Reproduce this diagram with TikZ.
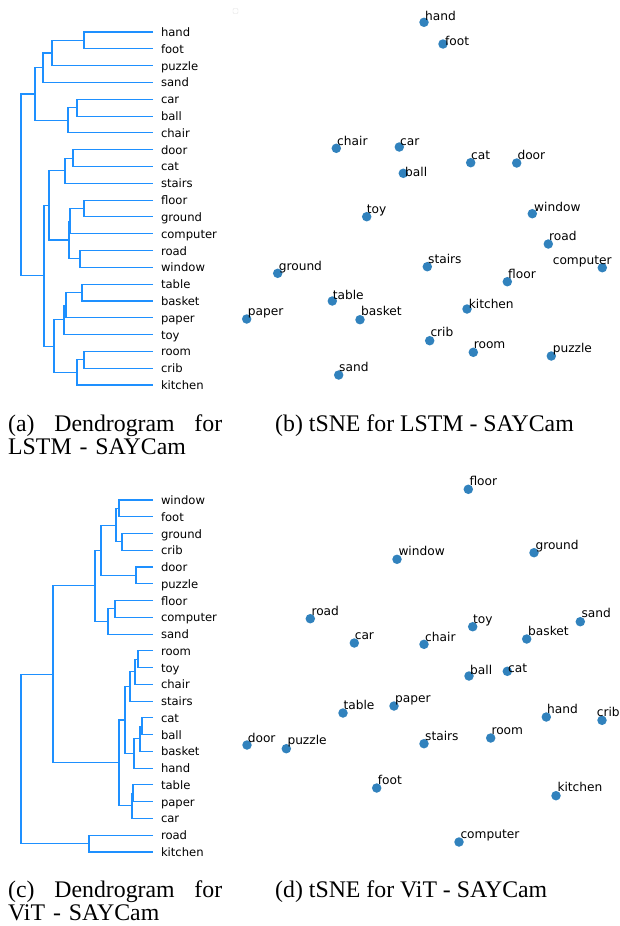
\documentclass[tikz,border=0pt]{standalone}
\usepackage{fontspec}
\setmainfont{DejaVu Sans}
\newfontfamily\capfont{Liberation Serif}

\definecolor{treeblue}{RGB}{30,144,255}
\definecolor{dotblue}{RGB}{49,130,189}

\tikzset{
  link/.style={draw=treeblue, line width=1.1pt},
  leaf/.style={anchor=west, inner sep=0pt, outer xsep=8pt, outer ysep=0pt,
    text height=9pt, text depth=0pt, font=\fontsize{11.6}{13}\selectfont},
  dot/.style={circle, fill=dotblue, inner sep=0pt, minimum size=9.5pt},
  word/.style={anchor=base west, inner sep=0pt, font=\fontsize{12.2}{14}\selectfont},
  caption/.style={anchor=base west, inner sep=0pt, align=left,
    font=\capfont\fontsize{23.8}{23}\selectfont}
}

\begin{document}
\begin{tikzpicture}[x=1pt,y=-1pt]
\useasboundingbox (0,0) rectangle (619,926);

% (a) dendrogram, LSTM
\node[leaf] (a-hand) at (153,32) {hand};
\node[leaf] (a-foot) at (153,48.81) {foot};
\node[leaf] (a-puzzle) at (153,65.62) {puzzle};
\node[leaf] (a-sand) at (153,82.43) {sand};
\node[leaf] (a-car) at (153,99.24) {car};
\node[leaf] (a-ball) at (153,116.05) {ball};
\node[leaf] (a-chair) at (153,132.86) {chair};
\node[leaf] (a-door) at (153,149.67) {door};
\node[leaf] (a-cat) at (153,166.48) {cat};
\node[leaf] (a-stairs) at (153,183.29) {stairs};
\node[leaf] (a-floor) at (153,200.1) {floor};
\node[leaf] (a-ground) at (153,216.91) {ground};
\node[leaf] (a-computer) at (153,233.72) {computer};
\node[leaf] (a-road) at (153,250.53) {road};
\node[leaf] (a-window) at (153,267.34) {window};
\node[leaf] (a-table) at (153,284.15) {table};
\node[leaf] (a-basket) at (153,300.96) {basket};
\node[leaf] (a-paper) at (153,317.77) {paper};
\node[leaf] (a-toy) at (153,334.58) {toy};
\node[leaf] (a-room) at (153,351.39) {room};
\node[leaf] (a-crib) at (153,368.2) {crib};
\node[leaf] (a-kitchen) at (153,385.01) {kitchen};

\coordinate (a-hf) at (84,40.41);
\coordinate (a-hfp) at (52,53.01);
\coordinate (a-hfps) at (43,67.72);
\coordinate (a-cb) at (77,107.65);
\coordinate (a-cbc) at (68,120.25);
\coordinate (a-up) at (35,93.99);
\coordinate (a-dc) at (73,158.08);
\coordinate (a-dcs) at (65,170.68);
\coordinate (a-fg) at (84,208.5);
\coordinate (a-fgc) at (70,221.11);
\coordinate (a-rw) at (80,258.94);
\coordinate (a-fgcrw) at (69,240.02);
\coordinate (a-mid) at (49,205.35);
\coordinate (a-tb) at (82,292.56);
\coordinate (a-tbp) at (66,305.16);
\coordinate (a-tbpt) at (64,319.87);
\coordinate (a-rc) at (84,359.8);
\coordinate (a-rck) at (77,372.4);
\coordinate (a-low) at (54,346.14);
\coordinate (a-down) at (44,275.74);
\coordinate (a-root) at (21,184.87);

\draw[link] (a-hand) -| (a-hf) |- (a-foot);
\draw[link] (a-hf) -| (a-hfp) |- (a-puzzle);
\draw[link] (a-hfp) -| (a-hfps) |- (a-sand);
\draw[link] (a-car) -| (a-cb) |- (a-ball);
\draw[link] (a-cb) -| (a-cbc) |- (a-chair);
\draw[link] (a-hfps) -| (a-up) |- (a-cbc);
\draw[link] (a-door) -| (a-dc) |- (a-cat);
\draw[link] (a-dc) -| (a-dcs) |- (a-stairs);
\draw[link] (a-floor) -| (a-fg) |- (a-ground);
\draw[link] (a-fg) -| (a-fgc) |- (a-computer);
\draw[link] (a-road) -| (a-rw) |- (a-window);
\draw[link] (a-fgc) -| (a-fgcrw) |- (a-rw);
\draw[link] (a-dcs) -| (a-mid) |- (a-fgcrw);
\draw[link] (a-table) -| (a-tb) |- (a-basket);
\draw[link] (a-tb) -| (a-tbp) |- (a-paper);
\draw[link] (a-tbp) -| (a-tbpt) |- (a-toy);
\draw[link] (a-room) -| (a-rc) |- (a-crib);
\draw[link] (a-rc) -| (a-rck) |- (a-kitchen);
\draw[link] (a-tbpt) -| (a-low) |- (a-rck);
\draw[link] (a-mid) -| (a-down) |- (a-low);
\draw[link] (a-up) -| (a-root) |- (a-down);

% (b) tSNE, LSTM
\node[draw=black!12, rounded corners=1pt, minimum size=5pt, inner sep=0pt] (legend) at (235.5,11) {};
\node[dot] (b-hand) at (424,22.3) {};
\node[dot] (b-foot) at (443,44) {};
\node[dot] (b-chair) at (336.3,148.3) {};
\node[dot] (b-car) at (399.3,147) {};
\node[dot] (b-cat) at (470.7,162.7) {};
\node[dot] (b-door) at (516.7,163) {};
\node[dot] (b-ball) at (403.3,173.3) {};
\node[dot] (b-toy) at (366.7,216.7) {};
\node[dot] (b-window) at (532.3,213.7) {};
\node[dot] (b-road) at (548.3,244) {};
\node[dot] (b-computer) at (602.3,267.7) {};
\node[dot] (b-ground) at (277.7,273.3) {};
\node[dot] (b-stairs) at (427.3,266.7) {};
\node[dot] (b-floor) at (507.3,281.7) {};
\node[dot] (b-table) at (332.3,301) {};
\node[dot] (b-paper) at (246.7,319) {};
\node[dot] (b-basket) at (360,319.7) {};
\node[dot] (b-kitchen) at (467,309) {};
\node[dot] (b-crib) at (429.7,340.7) {};
\node[dot] (b-room) at (473.3,352.3) {};
\node[dot] (b-puzzle) at (551.3,356) {};
\node[dot] (b-sand) at (338.7,375) {};

\node[word] (b-hand-t) at (425,20.7) {hand};
\node[word] (b-foot-t) at (445,45.7) {foot};
\node[word] (b-chair-t) at (337,145) {chair};
\node[word] (b-car-t) at (400,145.7) {car};
\node[word] (b-cat-t) at (471,159.3) {cat};
\node[word] (b-door-t) at (517.3,159.3) {door};
\node[word] (b-ball-t) at (405,176.3) {ball};
\node[word] (b-toy-t) at (366.7,213.3) {toy};
\node[word] (b-window-t) at (534,211.7) {window};
\node[word] (b-road-t) at (549,240.7) {road};
\node[word] (b-computer-t) at (552.6,264) {computer};
\node[word] (b-ground-t) at (278.6,270) {ground};
\node[word] (b-stairs-t) at (428,263) {stairs};
\node[word] (b-floor-t) at (508,278) {floor};
\node[word] (b-table-t) at (332.6,299.3) {table};
\node[word] (b-paper-t) at (247.6,315.3) {paper};
\node[word] (b-basket-t) at (361,315.7) {basket};
\node[word] (b-kitchen-t) at (468.6,308) {kitchen};
\node[word] (b-crib-t) at (430.3,336.7) {crib};
\node[word] (b-room-t) at (473.6,348.3) {room};
\node[word] (b-puzzle-t) at (552.6,352.3) {puzzle};
\node[word] (b-sand-t) at (339,371) {sand};

% (c) dendrogram, ViT
\node[leaf] (c-window) at (153,500) {window};
\node[leaf] (c-foot) at (153,516.76) {foot};
\node[leaf] (c-ground) at (153,533.52) {ground};
\node[leaf] (c-crib) at (153,550.28) {crib};
\node[leaf] (c-door) at (153,567.04) {door};
\node[leaf] (c-puzzle) at (153,583.8) {puzzle};
\node[leaf] (c-floor) at (153,600.56) {floor};
\node[leaf] (c-computer) at (153,617.32) {computer};
\node[leaf] (c-sand) at (153,634.08) {sand};
\node[leaf] (c-room) at (153,650.84) {room};
\node[leaf] (c-toy) at (153,667.6) {toy};
\node[leaf] (c-chair) at (153,684.36) {chair};
\node[leaf] (c-stairs) at (153,701.12) {stairs};
\node[leaf] (c-cat) at (153,717.88) {cat};
\node[leaf] (c-ball) at (153,734.64) {ball};
\node[leaf] (c-basket) at (153,751.4) {basket};
\node[leaf] (c-hand) at (153,768.16) {hand};
\node[leaf] (c-table) at (153,784.92) {table};
\node[leaf] (c-paper) at (153,801.68) {paper};
\node[leaf] (c-car) at (153,818.44) {car};
\node[leaf] (c-road) at (153,835.2) {road};
\node[leaf] (c-kitchen) at (153,851.96) {kitchen};

\coordinate (c-wf) at (119,508.38);
\coordinate (c-gc) at (122,541.9);
\coordinate (c-wfgc) at (116,525.14);
\coordinate (c-dp) at (136,575.42);
\coordinate (c-wfgcdp) at (101,550.28);
\coordinate (c-fc) at (115,608.94);
\coordinate (c-fcs) at (108,621.51);
\coordinate (c-up) at (95,585.9);
\coordinate (c-rt) at (138,659.22);
\coordinate (c-rtc) at (135,671.79);
\coordinate (c-rtcs) at (130,686.46);
\coordinate (c-cb) at (142,726.26);
\coordinate (c-cbb) at (140,738.83);
\coordinate (c-cbbh) at (134,753.5);
\coordinate (c-mid) at (125,719.98);
\coordinate (c-tp) at (133,793.3);
\coordinate (c-tpc) at (132,805.87);
\coordinate (c-low) at (119,762.93);
\coordinate (c-big) at (53,674.41);
\coordinate (c-rk) at (89,843.58);
\coordinate (c-root) at (21,758.99);

\draw[link] (c-window) -| (c-wf) |- (c-foot);
\draw[link] (c-ground) -| (c-gc) |- (c-crib);
\draw[link] (c-wf) -| (c-wfgc) |- (c-gc);
\draw[link] (c-door) -| (c-dp) |- (c-puzzle);
\draw[link] (c-wfgc) -| (c-wfgcdp) |- (c-dp);
\draw[link] (c-floor) -| (c-fc) |- (c-computer);
\draw[link] (c-fc) -| (c-fcs) |- (c-sand);
\draw[link] (c-wfgcdp) -| (c-up) |- (c-fcs);
\draw[link] (c-room) -| (c-rt) |- (c-toy);
\draw[link] (c-rt) -| (c-rtc) |- (c-chair);
\draw[link] (c-rtc) -| (c-rtcs) |- (c-stairs);
\draw[link] (c-cat) -| (c-cb) |- (c-ball);
\draw[link] (c-cb) -| (c-cbb) |- (c-basket);
\draw[link] (c-cbb) -| (c-cbbh) |- (c-hand);
\draw[link] (c-rtcs) -| (c-mid) |- (c-cbbh);
\draw[link] (c-table) -| (c-tp) |- (c-paper);
\draw[link] (c-tp) -| (c-tpc) |- (c-car);
\draw[link] (c-mid) -| (c-low) |- (c-tpc);
\draw[link] (c-up) -| (c-big) |- (c-low);
\draw[link] (c-road) -| (c-rk) |- (c-kitchen);
\draw[link] (c-big) -| (c-root) |- (c-rk);

% (d) tSNE, ViT
\node[dot] (d-floor) at (468.3,489.3) {};
\node[dot] (d-window) at (397,559.3) {};
\node[dot] (d-ground) at (534,552.7) {};
\node[dot] (d-road) at (310.3,618.7) {};
\node[dot] (d-car) at (354.3,643) {};
\node[dot] (d-chair) at (424,644.3) {};
\node[dot] (d-toy) at (472.7,626.7) {};
\node[dot] (d-basket) at (526.7,639) {};
\node[dot] (d-sand) at (580.3,621.7) {};
\node[dot] (d-ball) at (469,676) {};
\node[dot] (d-cat) at (507.3,671.3) {};
\node[dot] (d-table) at (343,713) {};
\node[dot] (d-paper) at (394,706) {};
\node[dot] (d-hand) at (546.3,717) {};
\node[dot] (d-crib) at (602,720.3) {};
\node[dot] (d-door) at (247,745) {};
\node[dot] (d-puzzle) at (286.3,748.7) {};
\node[dot] (d-stairs) at (424,743.7) {};
\node[dot] (d-room) at (490.7,738) {};
\node[dot] (d-foot) at (376.7,788) {};
\node[dot] (d-kitchen) at (556,795.7) {};
\node[dot] (d-computer) at (459,842) {};

\node[word] (d-floor-t) at (469.3,485.7) {floor};
\node[word] (d-window-t) at (398.3,555.3) {window};
\node[word] (d-ground-t) at (535.3,549) {ground};
\node[word] (d-road-t) at (311.3,615) {road};
\node[word] (d-car-t) at (354.6,639) {car};
\node[word] (d-chair-t) at (425,641) {chair};
\node[word] (d-toy-t) at (473,623.3) {toy};
\node[word] (d-basket-t) at (528,635) {basket};
\node[word] (d-sand-t) at (581.3,617.7) {sand};
\node[word] (d-ball-t) at (470,674) {ball};
\node[word] (d-cat-t) at (508,672) {cat};
\node[word] (d-table-t) at (343.3,709.3) {table};
\node[word] (d-paper-t) at (395,702.3) {paper};
\node[word] (d-hand-t) at (547,713) {hand};
\node[word] (d-crib-t) at (596.6,716.7) {crib};
\node[word] (d-door-t) at (247.6,742.7) {door};
\node[word] (d-puzzle-t) at (287.3,744.3) {puzzle};
\node[word] (d-stairs-t) at (425,740) {stairs};
\node[word] (d-room-t) at (491.3,734) {room};
\node[word] (d-foot-t) at (377.6,784.7) {foot};
\node[word] (d-kitchen-t) at (557.3,791.3) {kitchen};
\node[word] (d-computer-t) at (460.3,838) {computer};

% captions
\node[caption, text width=230pt] (cap-a) at (8,431.5) {\hbox to 214pt{(a)\hfill Dendrogram\hfill for}\\LSTM - SAYCam};
\node[caption] (cap-b) at (275,431.5) {(b) tSNE for LSTM - SAYCam};
\node[caption, text width=230pt] (cap-c) at (8,897.5) {\hbox to 214pt{(c)\hfill Dendrogram\hfill for}\\ViT - SAYCam};
\node[caption] (cap-d) at (275,897.5) {(d) tSNE for ViT - SAYCam};
\end{tikzpicture}
\end{document}
